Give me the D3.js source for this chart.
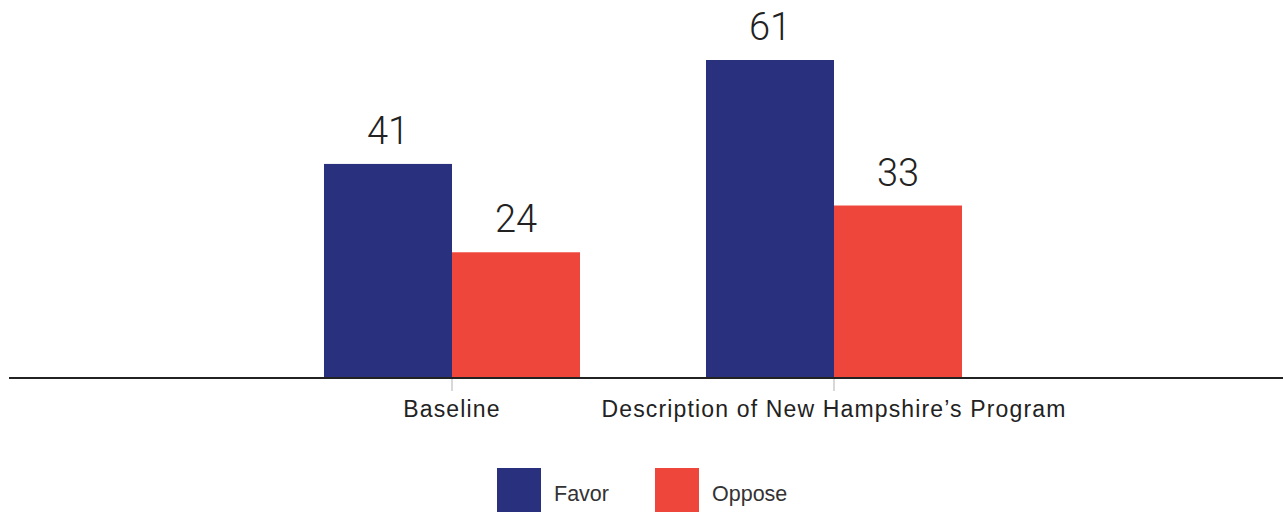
<!DOCTYPE html>
<html>
<head>
<meta charset="utf-8">
<script src="https://cdn.jsdelivr.net/npm/d3@7/dist/d3.min.js"></script>
<style>
  html, body { margin: 0; padding: 0; background: #fff; }
  svg { display: block; font-family: "Liberation Sans", Arial, sans-serif; }
</style>
</head>
<body>
<svg id="chart" width="1283" height="512"></svg>
<script>
// Survey results: share who favor / oppose
const categories = ["Baseline", "Description of New Hampshire\u2019s Program"];
const seriesNames = ["Favor", "Oppose"];
const favorValues = [41, 61];
const opposeValues = [24, 33];
const seriesColors = ["#29307e", "#ef463b"];

const width = 1283, height = 512;
const baseY = 377;

const svg = d3.select("#chart");

const rows = categories.map((c, i) => ({
  category: c,
  values: [
    { key: seriesNames[0], value: favorValues[i] },
    { key: seriesNames[1], value: opposeValues[i] }
  ]
}));

const x0 = d3.scaleBand()
  .domain(categories)
  .range([3, width])
  .paddingInner(0.3298)
  .paddingOuter(0.8403);

const x1 = d3.scaleBand()
  .domain(seriesNames)
  .range([0, x0.bandwidth()])
  .padding(0);

const y = d3.scaleLinear()
  .domain([0, d3.max(favorValues.concat(opposeValues))])
  .range([baseY, 60]);

const color = d3.scaleOrdinal().domain(seriesNames).range(seriesColors);

// bars and value labels
const groups = svg.append("g").selectAll("g")
  .data(rows)
  .join("g")
  .attr("transform", d => `translate(${x0(d.category)},0)`);

groups.selectAll("rect")
  .data(d => d.values)
  .join("rect")
  .attr("x", d => x1(d.key))
  .attr("y", d => y(d.value))
  .attr("width", x1.bandwidth())
  .attr("height", d => baseY - y(d.value))
  .attr("fill", d => color(d.key));

groups.selectAll("text")
  .data(d => d.values)
  .join("text")
  .attr("x", d => x1(d.key) + x1.bandwidth() / 2)
  .attr("y", d => y(d.value) - 20)
  .attr("text-anchor", "middle")
  .attr("font-family", "Roboto, 'Liberation Sans', sans-serif")
  .attr("font-weight", 300)
  .attr("font-size", 38)
  .attr("fill", "#222")
  .text(d => d.value);

// category axis
const xAxis = d3.axisBottom(x0).tickSize(0).tickPadding(0);
const axisG = svg.append("g")
  .attr("transform", `translate(0,${baseY})`)
  .call(xAxis);
axisG.select(".domain").remove();
axisG.selectAll(".tick text")
  .attr("y", 40)
  .attr("dy", 0)
  .attr("font-size", 23)
  .attr("letter-spacing", 1.15)
  .attr("font-family", "Liberation Sans, Arial, sans-serif")
  .attr("fill", "#222");
axisG.selectAll(".tick").append("line")
  .attr("y1", 2)
  .attr("y2", 14)
  .attr("stroke", "#cfcfcf")
  .attr("stroke-width", 1.6);

// baseline rule
svg.append("line")
  .attr("x1", 9)
  .attr("x2", width)
  .attr("y1", baseY + 1)
  .attr("y2", baseY + 1)
  .attr("stroke", "#222")
  .attr("stroke-width", 2);

// legend
const legendX = [497, 655];
const legend = svg.append("g").selectAll("g")
  .data(seriesNames)
  .join("g")
  .attr("transform", (d, i) => `translate(${legendX[i]},468)`);
legend.append("rect")
  .attr("width", 44)
  .attr("height", 44)
  .attr("fill", d => color(d));
legend.append("text")
  .attr("x", 57)
  .attr("y", 33)
  .attr("font-size", 21.5)
  .attr("fill", "#333")
  .text(d => d);
</script>
</body>
</html>
